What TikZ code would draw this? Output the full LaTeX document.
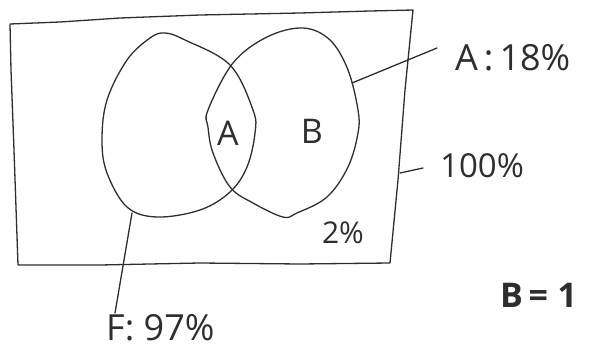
\documentclass[tikz,border=0pt]{standalone}
\usepackage{fontspec}
\setmainfont{Open Sans}
\definecolor{ink}{HTML}{2E2E2E}
\begin{document}
\begin{tikzpicture}[x=1pt,y=-1pt,
  pen/.style={draw=ink,line width=1.3pt,line join=round,line cap=round},
  hand/.style={text=ink,inner sep=0pt,font=\fontsize{34}{34}\selectfont}]
\useasboundingbox (0,0) rectangle (590,362);
% frame (universe)
\draw[pen] (10,24) -- (60,22) -- (120,18) -- (200,15) -- (300,13) -- (370,11) -- (413,10)
  -- (405,90) -- (398,180) -- (390,263) -- (300,264) -- (200,263) -- (100,265) -- (18,265)
  -- (14,150) -- (11,70) -- cycle;
% left set
\draw[pen] plot[smooth cycle,tension=0.6] coordinates {(150,38) (165,33) (185,40) (230,65) (253,110) (255,133) (247,167) (230,192) (200,210) (157,217) (127,207) (107,173) (102,140) (107,100) (127,60)};
% right set
\draw[pen] plot[smooth cycle,tension=0.6] coordinates {(303,28) (330,40) (348,70) (358,110) (358,133) (348,167) (327,197) (297,213) (283,217) (253,203) (230,187) (213,153) (208,127) (208,110) (233,63) (267,37)};
% labels
\node[hand] (ia) at (228,133) {A};
\node[hand] (ib) at (312,131) {B};
\node[hand,font=\fontsize{30}{30}\selectfont] (two) at (343,233) {2\%};
\node[hand,anchor=west,font=\fontsize{36}{36}\selectfont] (la) at (455,58) {A\,:\,18\%};
\node[hand,anchor=west,font=\fontsize{33}{33}\selectfont] (lu) at (440,166) {100\%};
\node[hand,anchor=north west,font=\fontsize{36}{36}\selectfont] (lf) at (106,314) {F: 97\%};
\node[hand,anchor=west,font=\fontsize{34}{34}\selectfont\bfseries] (lb) at (500,295) {B\,=\;1};
% leader ends
\coordinate (pa) at (352,83);
\coordinate (pu) at (400,173);
\coordinate (pf) at (132,213);
\draw[pen] (pa) -- (437,48);
\draw[pen] (pu) -- (423,168);
\draw[pen] (pf) -- (115,313);
\end{tikzpicture}
\end{document}
